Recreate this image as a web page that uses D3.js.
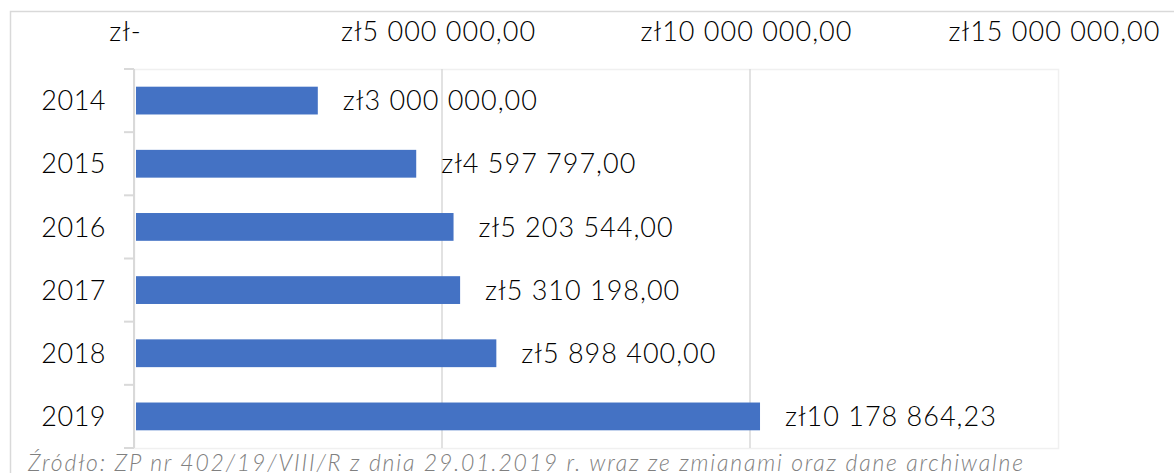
<!DOCTYPE html>
<html>
<head>
<meta charset="utf-8">
<script src="https://cdn.jsdelivr.net/npm/d3@7"></script>
<style>
	body { margin: 0; background: #fff; }
	svg { display: block; font-family: Lato, 'Noto Sans', sans-serif; font-weight: 300; }
</style>
</head>
<body>
<svg id="chart" width="1174" height="473"></svg>
<script>
'use strict';

/* global d3 */

var years = ['2014', '2015', '2016', '2017', '2018', '2019'];
var amounts = [3000000, 4597797, 5203544, 5310198, 5898400, 10178864.23];
var xTicks = [0, 5000000, 10000000, 15000000];
var sourceNote = 'Źródło: ZP nr 402/19/VIII/R z dnia 29.01.2019 r. wraz ze zmianami oraz dane archiwalne';

var plLocale = d3.formatLocale({
	decimal: ',',
	thousands: ' ',
	grouping: [3],
	currency: ['zł', '']
});
var money = plLocale.format('$,.2f');

function moneyTick(d) {
	if (d === 0) {
		return 'zł-';
	}
	return money(d);
}

var svg = d3.select('#chart');

var plot = {
	left: 134,
	right: 1058,
	top: 69,
	bottom: 448
};

// outer chart frame
svg.append('rect').attr('x', 10.5).attr('y', 11.5).attr('width', 1200).attr('height', 500).attr('fill', '#fff').attr('stroke', '#d9d9d9').attr('stroke-width', 1.5);

var x = d3.scaleLinear().domain([0, 15000000]).range([plot.left, plot.right]);

var y = d3.scaleBand().domain(years).range([plot.top, plot.bottom]).padding(0);

var barHeight = y.bandwidth() * 0.44;

// plot area border
svg.append('rect').attr('x', plot.left + 0.5).attr('y', plot.top + 0.5).attr('width', plot.right - plot.left).attr('height', plot.bottom - plot.top).attr('fill', 'none').attr('stroke', '#f0f0f0').attr('stroke-width', 1.5);

// vertical gridlines
svg.selectAll('line.grid').data(xTicks.slice(1, 3)).enter().append('line').attr('class', 'grid').attr('x1', function (d) {
	return x(d);
}).attr('x2', function (d) {
	return x(d);
}).attr('y1', plot.top).attr('y2', plot.bottom).attr('stroke', '#d9d9d9').attr('stroke-width', 1.5);

// top axis labels
var xAxis = d3.axisTop(x).tickValues(xTicks).tickSize(0).tickPadding(0).tickFormat(moneyTick);

var xAxisGroup = svg.append('g').attr('transform', 'translate(0,41)').call(xAxis);
xAxisGroup.select('.domain').remove();
xAxisGroup.selectAll('text').attr('font-size', 27).attr('font-family', 'Lato, sans-serif').attr('font-weight', 300).attr('letter-spacing', 1).attr('fill', '#000').attr('dy', 0).attr('dx', function (d) {
	return d === 0 ? -9 : -4;
});

// bars
svg.selectAll('rect.bar').data(amounts).enter().append('rect').attr('class', 'bar').attr('x', x(0) + 2).attr('y', function (d, i) {
	return y(years[i]) + (y.bandwidth() - barHeight) / 2;
}).attr('width', function (d) {
	return x(d) - x(0) - 3;
}).attr('height', barHeight).attr('fill', '#4472c4');

// y axis line and category boundary ticks
svg.append('line').attr('x1', plot.left).attr('x2', plot.left).attr('y1', plot.top).attr('y2', plot.bottom).attr('stroke', '#d9d9d9').attr('stroke-width', 2);

var boundaries = years.map(function (d) {
	return y(d);
}).concat([plot.bottom]);

svg.selectAll('line.ytick').data(boundaries).enter().append('line').attr('class', 'ytick').attr('x1', plot.left - 10).attr('x2', plot.left).attr('y1', function (d) {
	return d;
}).attr('y2', function (d) {
	return d;
}).attr('stroke', '#d9d9d9').attr('stroke-width', 2);

// category labels
svg.selectAll('text.year').data(years).enter().append('text').attr('class', 'year').attr('x', 106).attr('y', function (d) {
	return y(d) + y.bandwidth() / 2;
}).attr('dy', '0.36em').attr('text-anchor', 'end').attr('font-size', 27).attr('letter-spacing', 0.5).attr('fill', '#000').text(function (d) {
	return d;
});

// value labels
svg.selectAll('text.value').data(amounts).enter().append('text').attr('class', 'value').attr('x', function (d) {
	return x(d) + 24;
}).attr('y', function (d, i) {
	return y(years[i]) + y.bandwidth() / 2;
}).attr('dy', '0.36em').attr('font-size', 27).attr('letter-spacing', 1).attr('fill', '#000').text(function (d) {
	return money(d);
});

// source note
svg.append('text').attr('x', 28).attr('y', 471).attr('font-size', 23).attr('font-style', 'italic').attr('letter-spacing', 1.8).attr('fill', '#808080').text(sourceNote);
</script>
</body>
</html>
